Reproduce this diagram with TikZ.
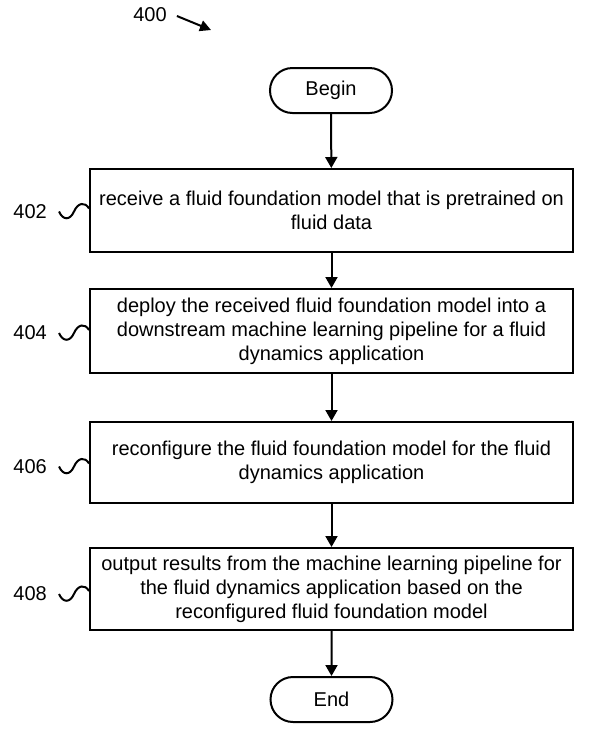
\documentclass[tikz,border=0pt]{standalone}
\usepackage{fontspec}
\setmainfont{Liberation Sans}
\usetikzlibrary{arrows.meta,shapes.misc}
\begin{document}
\begin{tikzpicture}[x=1pt,y=-1pt,
  every node/.style={font=\fontsize{20}{24}\selectfont, inner sep=0pt},
  stepbox/.style={draw, line width=2pt, minimum width=483pt, align=center},
  term/.style={draw, line width=2pt, rounded rectangle, minimum width=122pt, minimum height=45pt},
  flow/.style={line width=2pt, -{Triangle[length=11pt,width=12pt]}},
  squig/.style={line width=2pt},
  reflabel/.style={anchor=east}]
\useasboundingbox (0,0) rectangle (595,732);
\node[term] (begin) at (331,90.5) {Begin};
\node[stepbox, minimum height=83pt] (b402) at (331.5,210.5) {receive a fluid foundation model that is pretrained on\\fluid data};
\node[stepbox, minimum height=84pt] (b404) at (331.5,331) {deploy the received fluid foundation model into a\\downstream machine learning pipeline for a fluid\\dynamics application};
\node[stepbox, minimum height=81pt] (b406) at (331.5,462.5) {reconfigure the fluid foundation model for the fluid\\dynamics application};
\node[stepbox, minimum height=82pt] (b408) at (331.5,589) {output results from the machine learning pipeline for\\the fluid dynamics application based on the\\reconfigured fluid foundation model};
\node[term] (end) at (331.5,699.5) {End};
\draw[flow] (begin) -- (b402);
\draw[flow] (b402) -- (b404);
\draw[flow] (b404) -- (b406);
\draw[flow] (b406) -- (b408);
\draw[flow] (b408) -- (end);
% reference labels with squiggles
\foreach \b/\t/\dy in {b402/402/1, b404/404/2, b406/406/4, b408/408/5}{
  \coordinate (w\t) at ([yshift=-\dy pt]\b.west);
  \node[reflabel] (l\t) at ([xshift=-42pt]w\t) {\t};
  \draw[squig] ([xshift=-30pt]w\t) .. controls ([xshift=-26pt,yshift=-9pt]w\t) and ([xshift=-19pt,yshift=-9pt]w\t) .. ([xshift=-15pt]w\t)
     .. controls ([xshift=-11pt,yshift=9pt]w\t) and ([xshift=-4pt,yshift=10pt]w\t) .. ([yshift=3pt]w\t);
}
\node (n400) at (150,15) {400};
\coordinate (a400) at (211,30);
\draw[line width=2pt, -{Triangle[length=11pt,width=11pt]}] ([xshift=10pt,yshift=-1pt]n400.east) -- (a400);
\end{tikzpicture}
\end{document}
